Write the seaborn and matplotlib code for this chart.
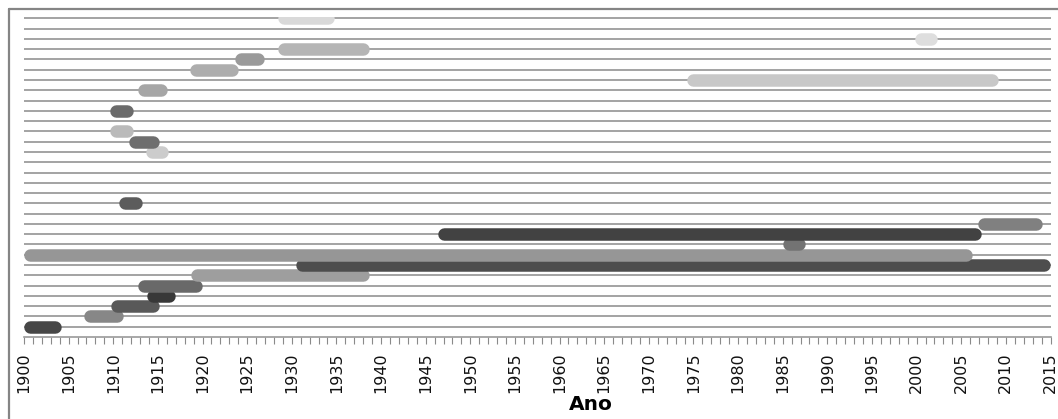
import numpy as np
import pandas as pd
import matplotlib
matplotlib.use("Agg")
import matplotlib.pyplot as plt
from matplotlib.lines import Line2D
from matplotlib.ticker import MultipleLocator
import seaborn as sns

# ---- data ----
rows = [1, 2, 3, 4, 5, 6, 7, 8, 9, 10, 11, 13, 18, 19, 20, 22, 24, 25, 26, 27, 28, 29, 31]
starts = [1900.7, 1907.4, 1910.4, 1914.4, 1913.4, 1919.4, 1931.2, 1900.7, 1985.7, 1947.0,
          2007.5, 1911.3, 1914.3, 1912.4, 1910.3, 1910.3, 1913.4, 1974.9, 1919.3, 1924.3,
          1929.1, 2000.5, 1929.1]
ends = [1903.5, 1910.4, 1914.4, 1916.3, 1919.3, 1938.0, 2014.3, 2005.5, 1986.8, 2006.5,
        2013.4, 1912.5, 1915.5, 1914.5, 1911.5, 1911.5, 1915.4, 2008.4, 1923.3, 1926.2,
        1938.0, 2001.6, 1934.1]
colors = ["#474747", "#878787", "#595959", "#383838", "#696969", "#9e9e9e", "#4d4d4d",
          "#969696", "#737373", "#424242", "#808080", "#5c5c5c", "#cccccc", "#6e6e6e",
          "#bababa", "#6b6b6b", "#a6a6a6", "#c8c8c8", "#adadad", "#9a9a9a", "#b5b5b5",
          "#dedede", "#d9d9d9"]
year_ticks = list(range(1900, 2016, 5))
x_label = "Ano"

# ---- long table for seaborn ----
recs = []
for i, (r, s, e) in enumerate(zip(rows, starts, ends)):
    recs.append({"id": i, "year": s, "row": r})
    recs.append({"id": i, "year": e, "row": r})
df = pd.DataFrame(recs)
palette = {i: c for i, c in enumerate(colors)}

sns.set_theme(style="white")
plt.rcParams['font.family'] = ['DejaVu Sans']

fig = plt.figure(figsize=(10.58, 4.19), dpi=100)
ax = fig.add_axes([24 / 1058, (419 - 337) / 419, (1050.5 - 24) / 1058, (337 - 17) / 419])

sns.lineplot(data=df, x="year", y="row", hue="id", units="id", estimator=None,
             palette=palette, sort=False, linewidth=9, solid_capstyle="round",
             legend=False, ax=ax, zorder=3)

ax.set_xlim(1900, 2015)
ax.set_ylim(0, 31.13)

ax.set_yticks(range(1, 32))
ax.set_yticklabels([])
ax.yaxis.grid(True, color="#9c9c9c", linewidth=1.3)
ax.xaxis.grid(False)
ax.set_axisbelow(True)
ax.tick_params(axis="y", length=0)

ax.set_xticks(year_ticks)
ax.set_xticklabels([str(y) for y in year_ticks], rotation=90, fontsize=11.5, color="#111111")
ax.xaxis.set_minor_locator(MultipleLocator(1))
ax.tick_params(axis="x", which="both", direction="out", length=5, width=0.8,
               color="#8a8a8a", bottom=True, pad=6)

for sp in ["left", "right", "top"]:
    ax.spines[sp].set_visible(False)
ax.spines["bottom"].set_color("#9a9a9a")
ax.spines["bottom"].set_linewidth(1.2)

ax.set_ylabel("")
ax.set_xlabel(x_label, fontsize=14.5, fontweight="bold", color="#000000")
ax.xaxis.set_label_coords((591 - 24) / 1026.5, (337 - 404) / 320, transform=ax.transAxes)
ax.xaxis.label.set_va("center")

# chart frame (left and top)
fig.add_artist(Line2D([9 / 1058, 9 / 1058], [0, 1 - 9 / 419], color="#858585", linewidth=1.6,
                      transform=fig.transFigure))
fig.add_artist(Line2D([9 / 1058, 1], [1 - 9 / 419, 1 - 9 / 419], color="#858585", linewidth=1.6,
                      transform=fig.transFigure))

fig.savefig("out.png", dpi=100)
